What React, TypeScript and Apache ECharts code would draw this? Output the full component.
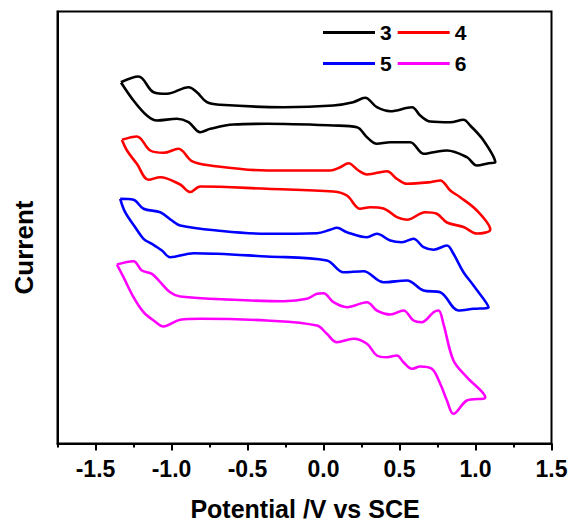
import React, { useEffect, useRef } from "react";
import * as echarts from "echarts";

// Potential (V vs SCE) and current (arbitrary units)
const cv3: number[][] = [
  [-1.333, 361.3], [-1.217, 367], [-1.118, 351.3], [-1.03, 349.7], [-0.888, 356.3], [-0.833, 351.3],
  [-0.767, 341.3], [-0.68, 338.7], [-0.265, 336.3], [0.064, 338], [0.195, 341.3], [0.274, 345.7],
  [0.351, 336.3], [0.439, 332.3], [0.582, 336.3], [0.636, 328], [0.702, 322], [0.834, 321.3],
  [0.921, 323.7], [0.965, 318], [1.053, 303], [1.13, 281.3],
  [1.086, 280.3], [1.009, 278], [0.943, 286.3], [0.812, 293], [0.724, 291.3], [0.658, 289.7],
  [0.57, 301.3], [0.439, 301.3], [0.351, 299.7], [0.286, 306.3], [0.22, 316.3], [0.064, 318],
  [-0.372, 319.7], [-0.592, 319], [-0.745, 314.7], [-0.811, 311.3], [-0.888, 321.3], [-0.964, 324.7],
  [-1.096, 323], [-1.162, 328], [-1.25, 343], [-1.333, 361.3],
];

const cv4: number[][] = [
  [-1.326, 303.7], [-1.228, 307], [-1.14, 293], [-1.053, 290.7], [-0.954, 294.7], [-0.866, 282.3],
  [-0.745, 278], [-0.372, 273], [0.044, 273], [0.11, 276.3], [0.164, 280.3], [0.23, 273],
  [0.286, 269], [0.417, 272.3], [0.483, 264.7], [0.549, 259.7], [0.702, 261.3], [0.768, 263],
  [0.834, 253], [0.899, 246.3], [1.009, 233], [1.097, 214],
  [1.009, 210], [0.921, 216.5], [0.812, 221], [0.746, 229.7], [0.669, 231.3], [0.549, 223.7],
  [0.483, 226.3], [0.395, 235], [0.307, 236.3], [0.241, 234.7], [0.154, 248], [0.066, 252],
  [-0.372, 254.7], [-0.811, 257], [-0.877, 251.5], [-0.943, 259], [-1.074, 266.3], [-1.151, 263.7],
  [-1.228, 279.7], [-1.293, 293], [-1.326, 303.7],
];

const cv5: number[][] = [
  [-1.3375, 244.7], [-1.25, 243.7], [-1.184, 234.7], [-1.074, 231.3], [-0.997, 223], [-0.943, 218],
  [-0.701, 213], [-0.372, 209.7], [-0.043, 210.3], [0.044, 213.7], [0.088, 215.7], [0.154, 211.3],
  [0.286, 206.3], [0.351, 209.7], [0.439, 203], [0.516, 201.3], [0.592, 204.7], [0.658, 196.3],
  [0.724, 193.7], [0.812, 198], [0.855, 189.7], [0.921, 171.3], [0.987, 158], [1.086, 136.3],
  [0.987, 134.7], [0.888, 133], [0.768, 151.3], [0.658, 153], [0.549, 163], [0.395, 161.3],
  [0.263, 172.3], [0.132, 171.3], [0.022, 183], [-0.372, 187], [-0.855, 190.3], [-1.009, 186.3],
  [-1.063, 193], [-1.129, 199.7], [-1.184, 204.7], [-1.239, 216.3], [-1.305, 231.3], [-1.3375, 244.7],
];

const cv6: number[][] = [
  [-1.359, 179], [-1.25, 182.3], [-1.195, 173], [-1.129, 169.7], [-1.074, 161.3], [-1.009, 151.3],
  [-0.943, 147], [-0.592, 143.7], [-0.263, 142.3], [-0.109, 144.7], [-0.043, 149.7], [0.0, 150.3],
  [0.066, 141.3], [0.154, 136.3], [0.286, 141.3], [0.351, 133], [0.439, 129], [0.526, 133],
  [0.592, 123], [0.647, 121.3], [0.724, 131.3], [0.757, 133], [0.789, 119.7], [0.855, 83],
  [0.943, 66.3], [1.064, 46.3],
  [0.943, 43], [0.855, 29.7], [0.812, 43], [0.768, 59.7], [0.713, 74.7], [0.636, 77],
  [0.582, 74.7], [0.526, 81.3], [0.483, 88], [0.417, 86.3], [0.351, 88], [0.286, 99.7],
  [0.197, 104.7], [0.088, 101.3], [0.022, 109.7], [-0.043, 118], [-0.372, 123], [-0.811, 124.7],
  [-0.943, 123.7], [-1.053, 117], [-1.118, 123], [-1.184, 131.3], [-1.25, 146.3], [-1.316, 166.3],
  [-1.359, 179],
];

const seriesNames = ["3", "4", "5", "6"];
const seriesColors = ["#000000", "#ff0000", "#0000ff", "#ff00ff"];
const majorTicks = [-1.5, -1.0, -0.5, 0.0, 0.5, 1.0, 1.5];
const minorTicks = [-1.75, -1.25, -0.75, -0.25, 0.25, 0.75, 1.25];
const xTitle = "Potential /V vs SCE";
const yTitle = "Current";

const FONT = "'Liberation Sans', Arial, Helvetica, sans-serif";

export default function App() {
  const ref = useRef<HTMLDivElement>(null);
  useEffect(() => {
    if (!ref.current) return;
    const chart = echarts.init(ref.current, undefined, { renderer: "svg" });
    const dataSets = [cv3, cv4, cv5, cv6];
    const legendText = { fontFamily: FONT, fontWeight: "bold", fontSize: 21, color: "#000" };
    chart.setOption({
      animation: false,
      grid: {
        left: 57.5,
        top: 11.5,
        width: 494,
        height: 432,
        show: true,
        borderColor: "#000",
        borderWidth: 2,
        backgroundColor: "transparent",
      },
      legend: [
        {
          data: [seriesNames[0], seriesNames[1]],
          left: 323,
          top: 22,
          icon: "rect",
          itemWidth: 52,
          itemHeight: 3,
          itemGap: 6,
          padding: 0,
          textStyle: legendText,
        },
        {
          data: [seriesNames[2], seriesNames[3]],
          left: 323,
          top: 53,
          icon: "rect",
          itemWidth: 52,
          itemHeight: 3,
          itemGap: 6,
          padding: 0,
          textStyle: legendText,
        },
      ],
      xAxis: [
        {
          type: "value",
          min: -1.75,
          max: 1.5,
          interval: 0.25,
          position: "bottom",
          axisLine: { show: true, onZero: false, lineStyle: { color: "#000", width: 2 } },
          axisTick: {
            show: true,
            inside: false,
            length: 7,
            lineStyle: { color: "#000", width: 2 },
            customValues: majorTicks,
          },
          axisLabel: {
            show: true,
            margin: 14,
            fontFamily: FONT,
            fontWeight: "bold",
            fontSize: 23,
            color: "#000",
            customValues: majorTicks,
            formatter: (v: number) => v.toFixed(1),
          },
          splitLine: { show: false },
        },
        {
          type: "value",
          min: -1.75,
          max: 1.5,
          interval: 0.25,
          position: "bottom",
          axisLine: { show: false, onZero: false },
          axisTick: {
            show: true,
            inside: false,
            length: 4,
            lineStyle: { color: "#000", width: 2 },
            customValues: minorTicks,
          },
          axisLabel: { show: false },
          splitLine: { show: false },
        },
      ],
      yAxis: {
        type: "value",
        min: 0,
        max: 432,
        axisLine: { show: true, onZero: false, lineStyle: { color: "#000", width: 2 } },
        axisTick: { show: false },
        axisLabel: { show: false },
        splitLine: { show: false },
      },
      graphic: [
        {
          type: "text",
          x: 305,
          y: 509,
          style: {
            text: xTitle,
            fontFamily: FONT,
            fontWeight: "bold",
            fontSize: 25,
            fill: "#000",
            textAlign: "center",
            textVerticalAlign: "middle",
          },
        },
        {
          type: "text",
          x: 24,
          y: 247.5,
          rotation: Math.PI / 2,
          style: {
            text: yTitle,
            fontFamily: FONT,
            fontWeight: "bold",
            fontSize: 26,
            fill: "#000",
            textAlign: "center",
            textVerticalAlign: "middle",
          },
        },
      ],
      series: dataSets.map((d, i) => ({
        name: seriesNames[i],
        type: "line",
        xAxisIndex: 0,
        data: d,
        showSymbol: false,
        symbol: "none",
        smooth: 0.35,
        color: seriesColors[i],
        lineStyle: { color: seriesColors[i], width: 2.6 },
      })),
    });
    return () => chart.dispose();
  }, []);
  return (
    <div
      ref={ref}
      style={{ position: "absolute", left: 0, top: 0, width: 572, height: 524, background: "#fff" }}
    />
  );
}
